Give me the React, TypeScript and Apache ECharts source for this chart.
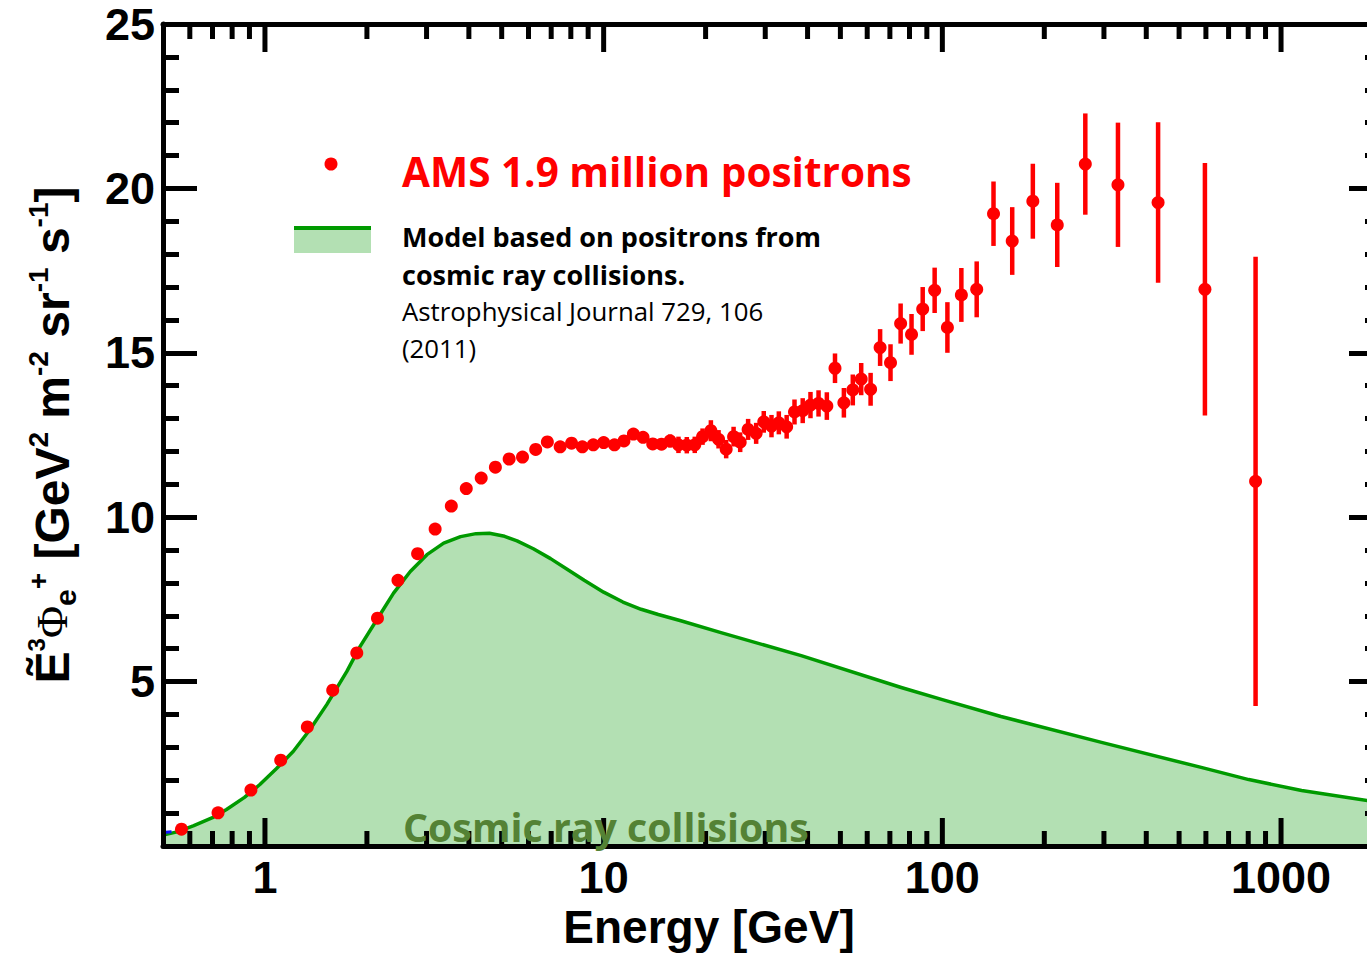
import React, { useEffect, useRef } from "react";
import * as echarts from "echarts";

// AMS positron flux (E^3-weighted) with statistical error half-widths
const energy = [
  0.567, 0.727, 0.909, 1.113, 1.334, 1.585, 1.867, 2.149, 2.47, 2.823, 3.18, 3.55,
  3.93, 4.35, 4.79, 5.26, 5.76, 6.3, 6.82, 7.44, 8.04, 8.65, 9.32, 10.0,
  10.76, 11.48, 12.24, 13.07, 13.96, 14.82, 15.71, 16.63, 17.6, 18.58, 19.59, 20.73,
  21.84, 23.0, 24.19, 25.3, 26.7, 28.2, 29.7, 31.3, 32.9, 34.7, 36.6, 38.7,
  40.8, 43.1, 45.6, 48.2, 51.2, 54.4, 57.6, 61.4, 65.5, 70.3, 75.3, 81.1,
  87.5, 94.9, 103.5, 113.8, 126.3, 141.6, 160.8, 185, 218.4, 264.3, 330, 433.5,
  596, 841,
];
const flux = [
  0.51, 1.01, 1.7, 2.61, 3.62, 4.74, 5.87, 6.93, 8.08, 8.89, 9.64, 10.34,
  10.87, 11.19, 11.52, 11.77, 11.83, 12.06, 12.29, 12.14, 12.25, 12.14, 12.2, 12.27,
  12.2, 12.32, 12.53, 12.43, 12.23, 12.22, 12.32, 12.2, 12.19, 12.2, 12.45, 12.63,
  12.37, 12.07, 12.45, 12.28, 12.67, 12.55, 12.9, 12.77, 12.87, 12.75, 13.2, 13.24,
  13.41, 13.46, 13.38, 14.53, 13.48, 13.87, 14.2, 13.89, 15.16, 14.7, 15.89, 15.56,
  16.33, 16.9, 15.77, 16.76, 16.93, 19.23, 18.4, 19.61, 18.89, 20.74, 20.11, 19.57,
  16.93, 11.09,
];
const fluxErr = [
  0, 0, 0, 0, 0, 0, 0, 0, 0, 0, 0, 0,
  0, 0, 0, 0, 0, 0, 0, 0, 0, 0, 0, 0,
  0.1, 0.1, 0.12, 0.12, 0.14, 0.15, 0.2, 0.25, 0.25, 0.25, 0.25, 0.32,
  0.28, 0.28, 0.3, 0.3, 0.32, 0.32, 0.33, 0.34, 0.35, 0.36, 0.38, 0.38,
  0.4, 0.4, 0.42, 0.45, 0.45, 0.47, 0.49, 0.5, 0.56, 0.56, 0.61, 0.62,
  0.67, 0.69, 0.77, 0.82, 0.85, 0.98, 1.03, 1.14, 1.28, 1.54, 1.89, 2.44,
  3.84, 6.83,
];

// Secondary-production model (Astrophysical Journal 729, 106)
const modelEnergy = [
  0.5, 0.55, 0.614, 0.7, 0.77, 0.87, 0.966, 1.08, 1.213, 1.36, 1.522, 1.745,
  1.91, 2.139, 2.397, 2.686, 3.008, 3.37, 3.78, 4.2, 4.6, 5.1, 5.55, 6.2,
  6.97, 7.8, 8.76, 10, 11.4, 12.9, 14.5, 16.9, 22.2, 38.3, 75.6, 100,
  149, 295, 581, 803, 1150, 1850, 2000,
];
const modelFlux = [
  0.33, 0.43, 0.61, 0.86, 1.11, 1.48, 1.87, 2.35, 2.88, 3.55, 4.3, 5.31,
  6.07, 6.88, 7.69, 8.35, 8.86, 9.21, 9.41, 9.5, 9.51, 9.42, 9.28, 9.04,
  8.74, 8.42, 8.08, 7.72, 7.42, 7.2, 7.04, 6.85, 6.49, 5.79, 4.82, 4.45,
  3.94, 3.15, 2.39, 2.02, 1.69, 1.36, 1.3,
];

// short blue trace at the lowest energies
const blueEnergy = [0.5, 0.53];
const blueFlux = [0.41, 0.43];

// axis ticks
const xMajorTicks = [1, 10, 100, 1000];
const xMinorTicks = [
  0.6, 0.7, 0.8, 0.9, 2, 3, 4, 5, 6, 7, 8, 9, 20, 30, 40, 50, 60, 70, 80, 90,
  200, 300, 400, 500, 600, 700, 800, 900,
];
const yTickLabels = [5, 10, 15, 20, 25];

const TICK_FONT = '"Liberation Sans", Arial, Helvetica, sans-serif';
const TEXT_FONT = '"Open Sans", Lato, sans-serif';

function isLabelledDecade(v: number) {
  return xMajorTicks.some((m) => Math.abs(m - v) < 1e-6 * m);
}

export default function App() {
  const ref = useRef<HTMLDivElement | null>(null);

  useEffect(() => {
    if (!ref.current) return;
    const chart = echarts.init(ref.current, undefined, { renderer: "svg" });

    const tickData = [
      ...xMajorTicks.map((v) => [v, 1]),
      ...xMinorTicks.map((v) => [v, 0]),
    ];

    const tickLine = { color: "#000", width: 5 };

    const option: any = {
      animation: false,
      backgroundColor: "#ffffff",
      grid: { left: 163, top: 24, right: 0, bottom: 107, containLabel: false },
      xAxis: [
        {
          type: "log",
          logBase: 10,
          min: 0.5,
          max: 2000,
          position: "bottom",
          z: 10,
          axisLine: { show: true, onZero: false, lineStyle: tickLine },
          axisTick: { show: false },
          minorTick: { show: false },
          splitLine: { show: false },
          axisLabel: {
            show: true,
            margin: 9,
            showMinLabel: false,
            showMaxLabel: false,
            color: "#000",
            fontSize: 45,
            fontWeight: "bold",
            fontFamily: TICK_FONT,
            formatter: (v: number) => (isLabelledDecade(v) ? String(Math.round(v)) : ""),
          },
        },
        {
          type: "log",
          logBase: 10,
          min: 0.5,
          max: 2000,
          position: "top",
          z: 10,
          axisLine: { show: true, onZero: false, lineStyle: tickLine },
          axisTick: { show: false },
          splitLine: { show: false },
          axisLabel: { show: false },
        },
      ],
      yAxis: [
        {
          type: "value",
          min: 0,
          max: 25,
          interval: 5,
          position: "left",
          z: 10,
          axisLine: { show: true, onZero: false, lineStyle: tickLine },
          axisTick: { show: true, inside: true, length: 34, lineStyle: tickLine },
          minorTick: { show: true, splitNumber: 5, length: 16, lineStyle: tickLine },
          splitLine: { show: false },
          axisLabel: {
            margin: 8,
            color: "#000",
            fontSize: 45,
            fontWeight: "bold",
            fontFamily: TICK_FONT,
            formatter: (v: number) => (yTickLabels.includes(v) ? String(v) : ""),
          },
        },
        {
          type: "value",
          min: 0,
          max: 25,
          interval: 5,
          position: "right",
          z: 10,
          axisLine: { show: true, onZero: false, lineStyle: tickLine },
          axisTick: { show: true, inside: true, length: 34, lineStyle: tickLine },
          minorTick: { show: true, splitNumber: 5, length: 18, lineStyle: tickLine },
          splitLine: { show: false },
          axisLabel: { show: false },
        },
      ],
      series: [
        {
          name: "model",
          type: "line",
          xAxisIndex: 0,
          yAxisIndex: 0,
          data: modelEnergy.map((e, i) => [e, modelFlux[i]]),
          smooth: false,
          showSymbol: false,
          symbol: "none",
          z: 2,
          lineStyle: { color: "#009a00", width: 3.5, join: "round" },
          areaStyle: { color: "#b3e0b3", opacity: 1, origin: "start" },
        },
        {
          name: "blue",
          type: "line",
          data: blueEnergy.map((e, i) => [e, blueFlux[i]]),
          showSymbol: false,
          symbol: "none",
          z: 3,
          lineStyle: { color: "#1010ff", width: 3 },
        },
        {
          name: "errors",
          type: "custom",
          z: 4,
          data: energy.map((e, i) => [e, flux[i], fluxErr[i]]),
          renderItem: (_params: any, api: any) => {
            const e = api.value(0);
            const v = api.value(1);
            const err = api.value(2);
            if (!err) return null;
            const lo = api.coord([e, v - err]);
            const hi = api.coord([e, v + err]);
            return {
              type: "line",
              shape: { x1: lo[0], y1: lo[1], x2: hi[0], y2: hi[1] },
              style: { stroke: "#ff0000", lineWidth: 4.5 },
            };
          },
        },
        {
          name: "AMS",
          type: "scatter",
          z: 5,
          data: energy.map((e, i) => [e, flux[i]]),
          symbol: "circle",
          symbolSize: 13,
          itemStyle: { color: "#ff0000", opacity: 1 },
        },
        {
          name: "xticks",
          type: "custom",
          z: 12,
          silent: true,
          data: tickData,
          renderItem: (_params: any, api: any) => {
            const v = api.value(0);
            const len = api.value(1) === 1 ? 28 : 15;
            const b = api.coord([v, 0]);
            const t = api.coord([v, 25]);
            const st = { stroke: "#000", lineWidth: 5 };
            return {
              type: "group",
              children: [
                { type: "line", shape: { x1: b[0], y1: b[1], x2: b[0], y2: b[1] - len }, style: st },
                { type: "line", shape: { x1: t[0], y1: t[1], x2: t[0], y2: t[1] + len }, style: st },
              ],
            };
          },
        },
      ],
      graphic: [
        // legend: data points
        {
          type: "circle",
          z: 100,
          shape: { cx: 331, cy: 164, r: 6.5 },
          style: { fill: "#ff0000" },
        },
        {
          type: "text",
          z: 100,
          x: 402,
          y: 171,
          style: {
            text: "AMS 1.9 million positrons",
            fill: "#ff0000",
            font: `bold 40.5px ${TEXT_FONT}`,
            align: "left",
            verticalAlign: "middle",
          },
        },
        // legend: model band
        {
          type: "rect",
          z: 100,
          shape: { x: 294, y: 230, width: 77, height: 23 },
          style: { fill: "#b3e0b3" },
        },
        {
          type: "line",
          z: 100,
          shape: { x1: 294, y1: 228, x2: 371, y2: 228 },
          style: { stroke: "#009a00", lineWidth: 4 },
        },
        {
          type: "text",
          z: 100,
          x: 402,
          y: 236,
          style: {
            text: "Model based on positrons from",
            fill: "#000",
            font: `bold 27px ${TEXT_FONT}`,
            align: "left",
            verticalAlign: "middle",
          },
        },
        {
          type: "text",
          z: 100,
          x: 402,
          y: 274,
          style: {
            text: "cosmic ray collisions.",
            fill: "#000",
            font: `bold 27px ${TEXT_FONT}`,
            align: "left",
            verticalAlign: "middle",
          },
        },
        {
          type: "text",
          z: 100,
          x: 402,
          y: 311,
          style: {
            text: "Astrophysical Journal 729, 106",
            fill: "#000",
            font: `25.8px ${TEXT_FONT}`,
            align: "left",
            verticalAlign: "middle",
          },
        },
        {
          type: "text",
          z: 100,
          x: 402,
          y: 348,
          style: {
            text: "(2011)",
            fill: "#000",
            font: `25.8px ${TEXT_FONT}`,
            align: "left",
            verticalAlign: "middle",
          },
        },
        {
          type: "text",
          z: 100,
          x: 403,
          y: 827,
          style: {
            text: "Cosmic ray collisions",
            fill: "#548235",
            font: `bold 39.3px ${TEXT_FONT}`,
            align: "left",
            verticalAlign: "middle",
          },
        },
        // x-axis title
        {
          type: "text",
          z: 100,
          x: 709,
          y: 927,
          style: {
            text: "Energy [GeV]",
            fill: "#000",
            font: `bold 46px ${TICK_FONT}`,
            align: "center",
            verticalAlign: "middle",
          },
        },
        // y-axis title, reading upwards
        {
          type: "text",
          z: 100,
          x: 52,
          y: 435,
          rotation: Math.PI / 2,
          style: {
            text:
              "{m|Ẽ}{s3|3}{phi|Φ}{sub|e}{sp|+}{m| [GeV}{sup|2}{m| m}{sup|-2}{m| sr}{sup|-1}{m| s}{sup|-1}{m|]}",
            align: "center",
            verticalAlign: "middle",
            fill: "#000",
            rich: {
              m: { fontSize: 48, fontWeight: "bold", fontFamily: TICK_FONT, lineHeight: 56, fill: "#000" },
              phi: { fontSize: 44, fontFamily: '"Liberation Serif", "DejaVu Serif", serif', lineHeight: 56, fill: "#000" },
              sup: { fontSize: 28, fontWeight: "bold", fontFamily: TICK_FONT, lineHeight: 28, verticalAlign: "top", fill: "#000" },
              s3: { fontSize: 24, fontWeight: "bold", fontFamily: TICK_FONT, lineHeight: 2, verticalAlign: "top", fill: "#000" },
              sub: { fontSize: 30, fontWeight: "bold", fontFamily: TICK_FONT, lineHeight: 20, verticalAlign: "bottom", fill: "#000" },
              sp: { fontSize: 28, fontWeight: "bold", fontFamily: TICK_FONT, lineHeight: 44, verticalAlign: "top", fill: "#000" },
            },
          },
        },
      ],
    };

    chart.setOption(option);
    return () => chart.dispose();
  }, []);

  // the plot frame runs a few pixels past the right edge of the page
  return (
    <div
      style={{
        position: "fixed",
        left: 0,
        top: 0,
        width: 1367,
        height: 953,
        overflow: "hidden",
        background: "#fff",
      }}
    >
      <div ref={ref} style={{ width: 1383, height: 953 }} />
    </div>
  );
}
